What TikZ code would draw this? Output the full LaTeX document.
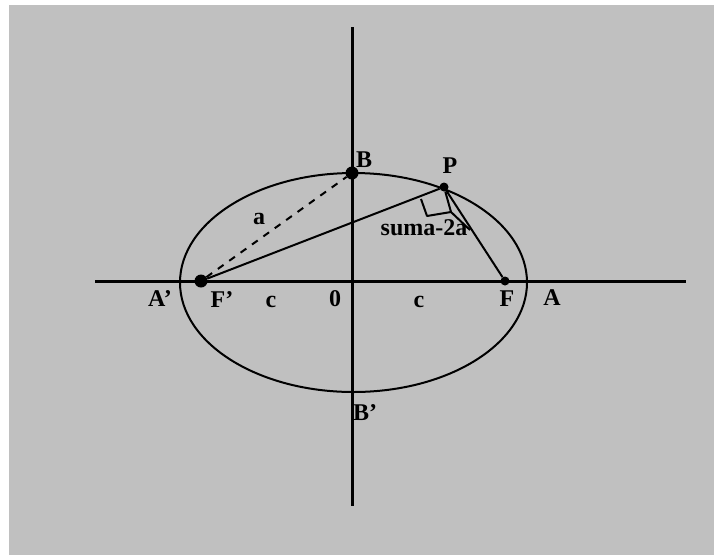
\documentclass[tikz,border=0pt]{standalone}
\usepackage{fontspec}
\setmainfont{Liberation Serif}
\begin{document}
\begin{tikzpicture}[x=1pt,y=-1pt,
  lbl/.style={font=\fontsize{24}{24}\selectfont\bfseries, inner sep=0pt},
  axis/.style={line width=3pt},
  thin/.style={line width=2pt},
  bigdot/.style={circle, fill=black, inner sep=0pt, minimum size=13pt},
  smalldot/.style={circle, fill=black, inner sep=0pt, minimum size=9pt}]
\useasboundingbox (0,0) rectangle (714,555);
\fill[white] (0,0) rectangle (714,555);
\fill[fill={rgb,255:red,192;green,192;blue,192}] (9,5) rectangle (714,555);
% axes
\coordinate (xl) at (95,281);
\coordinate (xr) at (686,281);
\coordinate (yt) at (352,27);
\coordinate (yb) at (352,506);
\draw[axis] (xl) -- (xr);
\draw[axis] (yt) -- (yb);
% ellipse
\coordinate (O) at (353.5,282.5);
\draw[thin] (O) ellipse [x radius=173.5, y radius=109.5];
% points
\node[bigdot] (Fp) at (201,281) {};
\node[bigdot] (B) at (352,173) {};
\node[smalldot] (P) at (444,187) {};
\node[smalldot] (F) at (505,281) {};
% segments
\draw[thin, dash pattern=on 7pt off 7pt] (Fp) -- (B);
\draw[thin] (Fp) -- (P);
\draw[thin] (P) -- (F);
% marker
\coordinate (m1) at (421,199);
\coordinate (m2) at (427,216);
\coordinate (m3) at (451,212);
\coordinate (m4) at (470,230);
\draw[thin, line join=round] (m1) -- (m2) -- (m3);
\draw[thin] (P) -- (m3) -- (m4);
% labels
\node[lbl] (lB) at (364,160) {B};
\node[lbl] (lP) at (450,166) {P};
\node[lbl] (lsuma) at (424,228) {suma-2a};
\node[lbl] (la) at (259,219) {a};
\node[lbl] (lAp) at (160,299) {A’};
\node[lbl] (lFp) at (222,300) {F’};
\node[lbl] (lc1) at (271,302) {c};
\node[lbl] (l0) at (335,299) {0};
\node[lbl] (lc2) at (419,302) {c};
\node[lbl] (lF) at (507,299) {F};
\node[lbl] (lA) at (552,298) {A};
\node[lbl] (lBp) at (365,413) {B’};
\end{tikzpicture}
\end{document}
